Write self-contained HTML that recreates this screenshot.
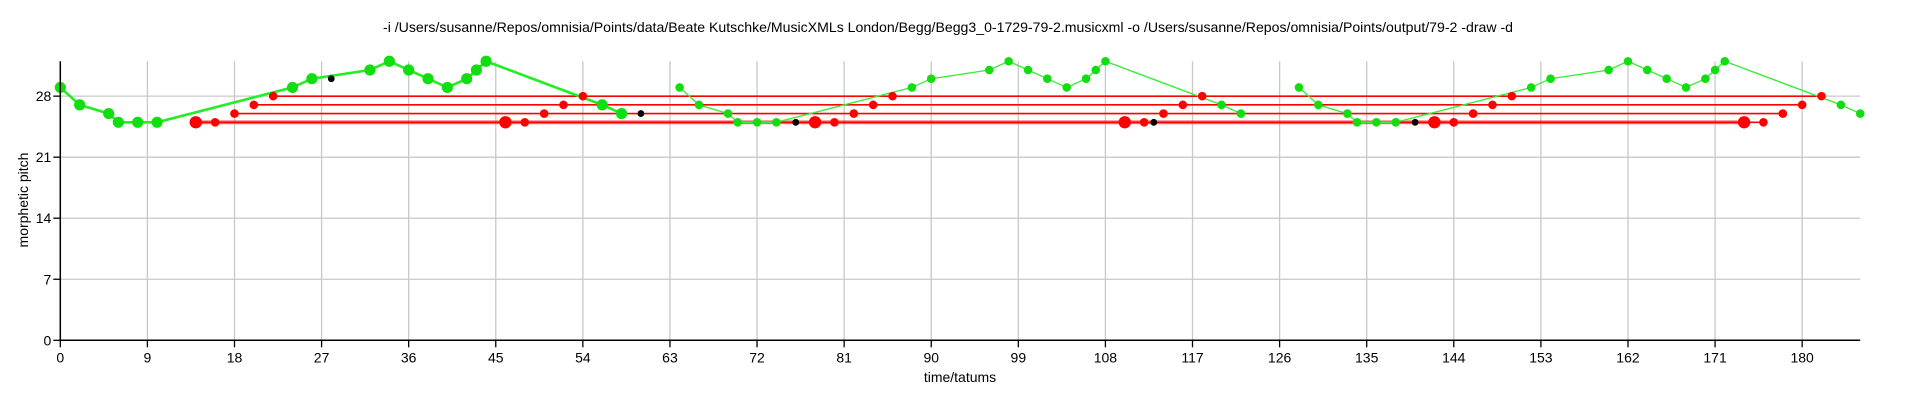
<!DOCTYPE html>
<html><head><meta charset="utf-8"><style>
html,body{margin:0;padding:0;background:#fff;}
svg{display:block;font-family:"Liberation Sans",Arial,sans-serif;}
</style></head><body>
<svg id="chart" width="1920" height="401" viewBox="0 0 1920 401" xmlns="http://www.w3.org/2000/svg">
<text x="948" y="32" font-size="14" text-anchor="middle" textLength="1130" lengthAdjust="spacingAndGlyphs">-i /Users/susanne/Repos/omnisia/Points/data/Beate Kutschke/MusicXMLs London/Begg/Begg3_0-1729-79-2.musicxml -o /Users/susanne/Repos/omnisia/Points/output/79-2 -draw -d</text>
<g id="grid"></g><g id="marks"></g><g id="axes"></g>
<text x="960" y="382" font-size="14" text-anchor="middle">time/tatums</text>
<text transform="translate(28,200) rotate(-90)" font-size="14" text-anchor="middle">morphetic pitch</text>
</svg>
<script>
const xTicks=[0,9,18,27,36,45,54,63,72,81,90,99,108,117,126,135,144,153,162,171,180];
const yTicks=[0,7,14,21,28];
const bigGreenT=[0,2,5,6,8,10,24,26,32,34,36,38,40,42,43,44,56,58];
const bigGreenP=[29,27,26,25,25,25,29,30,31,32,31,30,29,30,31,32,27,26];
const green2T=[64,66,69,70,72,74,88,90,96,98,100,102,104,106,107,108,120,122];
const green2P=[29,27,26,25,25,25,29,30,31,32,31,30,29,30,31,32,27,26];
const green3T=[128,130,133,134,136,138,152,154,160,162,164,166,168,170,171,172,184,186];
const green3P=[29,27,26,25,25,25,29,30,31,32,31,30,29,30,31,32,27,26];
const bigRedT=[14,46,78,110,142,174];
const bigRedP=[25,25,25,25,25,25];
const redA_T=[16,48,80,112,144,176]; const redA_P=[25,25,25,25,25,25];
const redB_T=[18,50,82,114,146,178]; const redB_P=[26,26,26,26,26,26];
const redC_T=[20,52,84,116,148,180]; const redC_P=[27,27,27,27,27,27];
const redD_T=[22,54,86,118,150,182]; const redD_P=[28,28,28,28,28,28];
const blackT=[28,60,76,113,140];
const blackP=[30,26,25,25,25];
const X0=60.3,XS=9.677,Y0=340.3,YS=8.72,XMAX=186,YMAX=32;
const sx=t=>X0+t*XS, sy=p=>Y0-p*YS;
const NS="http://www.w3.org/2000/svg";
function mk(tag,attrs,parent){const e=document.createElementNS(NS,tag);for(const k in attrs)e.setAttribute(k,attrs[k]);parent.appendChild(e);return e;}
const grid=document.getElementById('grid'),marks=document.getElementById('marks'),axes=document.getElementById('axes');
xTicks.forEach(t=>{
  const g=mk('line',{x1:sx(t),x2:sx(t),y1:sy(YMAX),y2:Y0,stroke:'#c8c8c8','stroke-width':1.3},grid);
  
  
  const tk=mk('line',{x1:sx(t),x2:sx(t),y1:Y0,y2:Y0+7,stroke:'#000','stroke-width':1.3},axes);
  
  
  const lb=mk('text',{x:sx(t),y:Y0+22,'font-size':14,'text-anchor':'middle'},axes);
  lb.textContent=t;
  
  
});
yTicks.forEach(p=>{
  const g=mk('line',{x1:X0,x2:sx(XMAX),y1:sy(p),y2:sy(p),stroke:'#c8c8c8','stroke-width':1.3},grid);
  
  
  const tk=mk('line',{x1:X0-7,x2:X0,y1:sy(p),y2:sy(p),stroke:'#000','stroke-width':1.3},axes);
  
  
  const lb=mk('text',{x:X0-9,y:sy(p)+5,'font-size':14,'text-anchor':'end'},axes);
  lb.textContent=p;
  
  
});
const xa=mk('line',{x1:X0,x2:sx(XMAX),y1:Y0,y2:Y0,stroke:'#000','stroke-width':1.5},axes);


const ya=mk('line',{x1:X0,x2:X0,y1:sy(YMAX),y2:Y0,stroke:'#000','stroke-width':1.5},axes);


function poly(T,P,color,w,name,op){
  const pts=T.map((t,i)=>sx(t)+','+sy(P[i])).join(' ');
  const l=mk('polyline',{points:pts,fill:'none',stroke:color,'stroke-width':w,'stroke-opacity':op||1},marks);
  
  
}
function dots(T,P,color,r,name){
  T.forEach((t,i)=>{
    const c=mk('circle',{cx:sx(t),cy:sy(P[i]),r:r,fill:color},marks);
    
    
  });
}
// red horizontal lines
[[redA_T,redA_P],[redB_T,redB_P],[redC_T,redC_P],[redD_T,redD_P]].forEach(([T,P])=>poly(T,P,'#ff0000',1.6,'red-pattern-line'));
poly(bigRedT,bigRedP,'#ff0000',4,'red-main-line',0.5);
poly(bigRedT,bigRedP,'#ff0000',1.6,'red-main-line-core');
poly(bigGreenT,bigGreenP,'#22ee22',2.6,'green-main-line');
poly(green2T,green2P,'#33ee33',1.3,'green-repeat-line');
poly(green3T,green3P,'#33ee33',1.3,'green-repeat-line');
dots(bigGreenT,bigGreenP,'#11dd11',5.6,'green-main-point');
dots(green2T,green2P,'#11dd11',4.3,'green-repeat-point');
dots(green3T,green3P,'#11dd11',4.3,'green-repeat-point');
[[redA_T,redA_P],[redB_T,redB_P],[redC_T,redC_P],[redD_T,redD_P]].forEach(([T,P])=>dots(T,P,'#ff0000',4.3,'red-point'));
dots(bigRedT,bigRedP,'#ff0000',6.2,'red-main-point');
dots(blackT,blackP,'#000000',3.4,'black-point');
</script>
</body></html>
